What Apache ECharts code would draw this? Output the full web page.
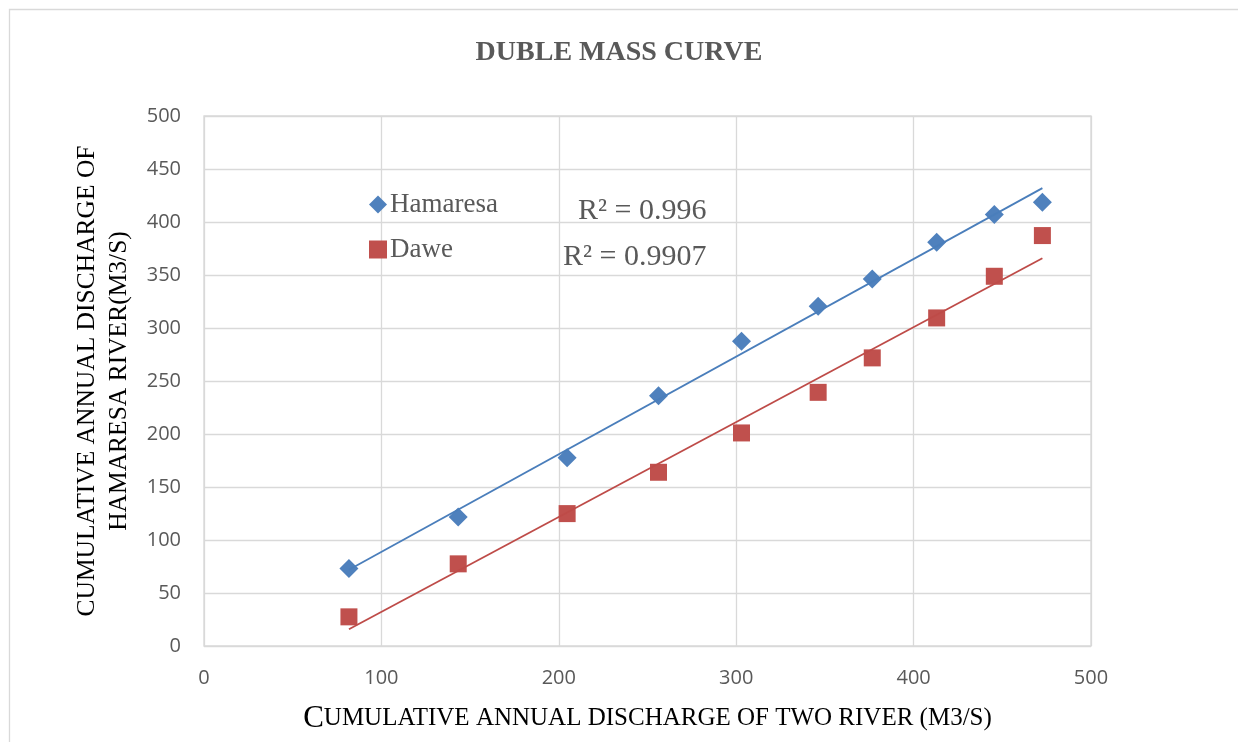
<!DOCTYPE html>
<html>
<head>
<meta charset="utf-8">
<title>Duble Mass Curve</title>
<script src="https://cdn.jsdelivr.net/npm/echarts@6/dist/echarts.min.js"></script>
<style>
  html, body { margin: 0; padding: 0; background: #fff; }
  #chart { width: 1238px; height: 742px; }
</style>
</head>
<body>
<div id="chart"></div>
<script>
// cumulative discharge of the two rivers (x axis)
const cumTwo = [81.7, 143.3, 204.7, 256.2, 303.0, 346.2, 376.7, 413.0, 445.5, 472.6]
// cumulative discharge, Hamaresa
const hamaresa = [73.0, 121.8, 177.5, 236.2, 287.5, 320.5, 346.3, 380.8, 407.0, 418.6]
// cumulative discharge, Dawe
const dawe = [27.5, 77.5, 124.9, 163.9, 201.0, 239.3, 271.8, 309.5, 348.8, 387.2]
// r squared labels as printed on the chart
const r2Labels = ['R² = 0.996', 'R² = 0.9907']

const blue = '#4F81BD'
const red = '#C0504D'
const grey = '#595959'
const gridGrey = '#d9d9d9'
const serif = '"Liberation Serif", "Times New Roman", serif'
const sans = '"Open Sans", "Liberation Sans", sans-serif'

// least squares line, from first to last x (like an excel trendline)
function trend(xs, ys) {
  let n = xs.length
  let sx = 0, sy = 0, sxx = 0, sxy = 0
  for (let i = 0; i < n; i++) {
    sx += xs[i]; sy += ys[i]; sxx += xs[i] * xs[i]; sxy += xs[i] * ys[i]
  }
  let b = (n * sxy - sx * sy) / (n * sxx - sx * sx)
  let a = (sy - b * sx) / n
  let x0 = Math.min(...xs), x1 = Math.max(...xs)
  return [[x0, a + b * x0], [x1, a + b * x1]]
}

function pairs(xs, ys) {
  return xs.map((x, i) => [x, ys[i]])
}

let chart = echarts.init(document.getElementById('chart'), null, { renderer: 'canvas' })

let options = {
  animation: false,
  backgroundColor: '#fff',
  title: {
    text: 'DUBLE MASS CURVE',
    left: 'center',
    top: 34,
    textStyle: {
      fontFamily: serif,
      fontWeight: 'bold',
      fontSize: 28,
      color: grey
    }
  },
  legend: {
    orient: 'vertical',
    left: 364,
    top: 186,
    itemWidth: 18,
    itemHeight: 18,
    itemGap: 18,
    data: ['Hamaresa', 'Dawe'],
    textStyle: {
      fontFamily: serif,
      fontSize: 27,
      lineHeight: 27,
      color: grey,
      padding: [0, 0, 0, -2]
    }
  },
  grid: {
    left: 204,
    right: 147,
    top: 116,
    bottom: 96,
    show: true,
    borderColor: gridGrey,
    borderWidth: 1.3,
    outerBoundsMode: 'none'
  },
  xAxis: {
    type: 'value',
    min: 0,
    max: 500,
    interval: 100,
    name: '{big|C}{small|UMULATIVE ANNUAL DISCHARGE OF TWO RIVER (M3/S)}',
    nameLocation: 'middle',
    nameGap: 57,
    nameTextStyle: {
      color: '#000',
      rich: {
        big: { fontFamily: serif, fontSize: 31, color: '#000' },
        small: { fontFamily: serif, fontSize: 25, color: '#000' }
      }
    },
    axisLine: { show: false },
    axisTick: { show: false },
    axisLabel: {
      margin: 22,
      fontFamily: sans,
      fontSize: 20,
      color: grey
    },
    splitLine: { lineStyle: { color: gridGrey, width: 1.3 } }
  },
  yAxis: {
    type: 'value',
    min: 0,
    max: 500,
    interval: 50,
    name: 'CUMULATIVE ANNUAL DISCHARGE OF\nHAMARESA RIVER(M3/S)',
    nameLocation: 'middle',
    nameRotate: 90,
    nameGap: 68,
    nameTextStyle: {
      fontFamily: serif,
      fontSize: 25.5,
      lineHeight: 32,
      color: '#000'
    },
    axisLine: { show: false },
    axisTick: { show: false },
    axisLabel: {
      margin: 23,
      fontFamily: sans,
      fontSize: 20,
      color: grey
    },
    splitLine: { lineStyle: { color: gridGrey, width: 1.3 } }
  },
  graphic: [
    // outer chart frame
    {
      type: 'rect',
      shape: { x: 9.5, y: 9.5, width: 1260, height: 760 },
      style: { fill: 'none', stroke: gridGrey, lineWidth: 1.3 },
      silent: true
    },
    {
      type: 'text',
      x: 578,
      y: 211,
      style: {
        text: r2Labels[0],
        fontFamily: serif,
        fontSize: 30,
        fill: grey,
        textVerticalAlign: 'middle'
      }
    },
    {
      type: 'text',
      x: 563,
      y: 257,
      style: {
        text: r2Labels[1],
        fontFamily: serif,
        fontSize: 30,
        fill: grey,
        textVerticalAlign: 'middle'
      }
    }
  ],
  series: [
    {
      name: 'Hamaresa',
      type: 'scatter',
      symbol: 'diamond',
      symbolSize: 19,
      itemStyle: { color: blue, opacity: 1 },
      z: 3,
      data: pairs(cumTwo, hamaresa)
    },
    {
      name: 'Dawe',
      type: 'scatter',
      symbol: 'rect',
      symbolSize: 17,
      itemStyle: { color: red, opacity: 1 },
      z: 3,
      data: pairs(cumTwo, dawe)
    },
    // trend lines
    {
      name: 'Hamaresa trend',
      type: 'line',
      showSymbol: false,
      lineStyle: { color: '#4a7ebb', width: 1.8 },
      z: 4,
      data: trend(cumTwo, hamaresa)
    },
    {
      name: 'Dawe trend',
      type: 'line',
      showSymbol: false,
      lineStyle: { color: '#be4b48', width: 1.8 },
      z: 4,
      data: trend(cumTwo, dawe)
    }
  ]
}

chart.setOption(options)
</script>
</body>
</html>
